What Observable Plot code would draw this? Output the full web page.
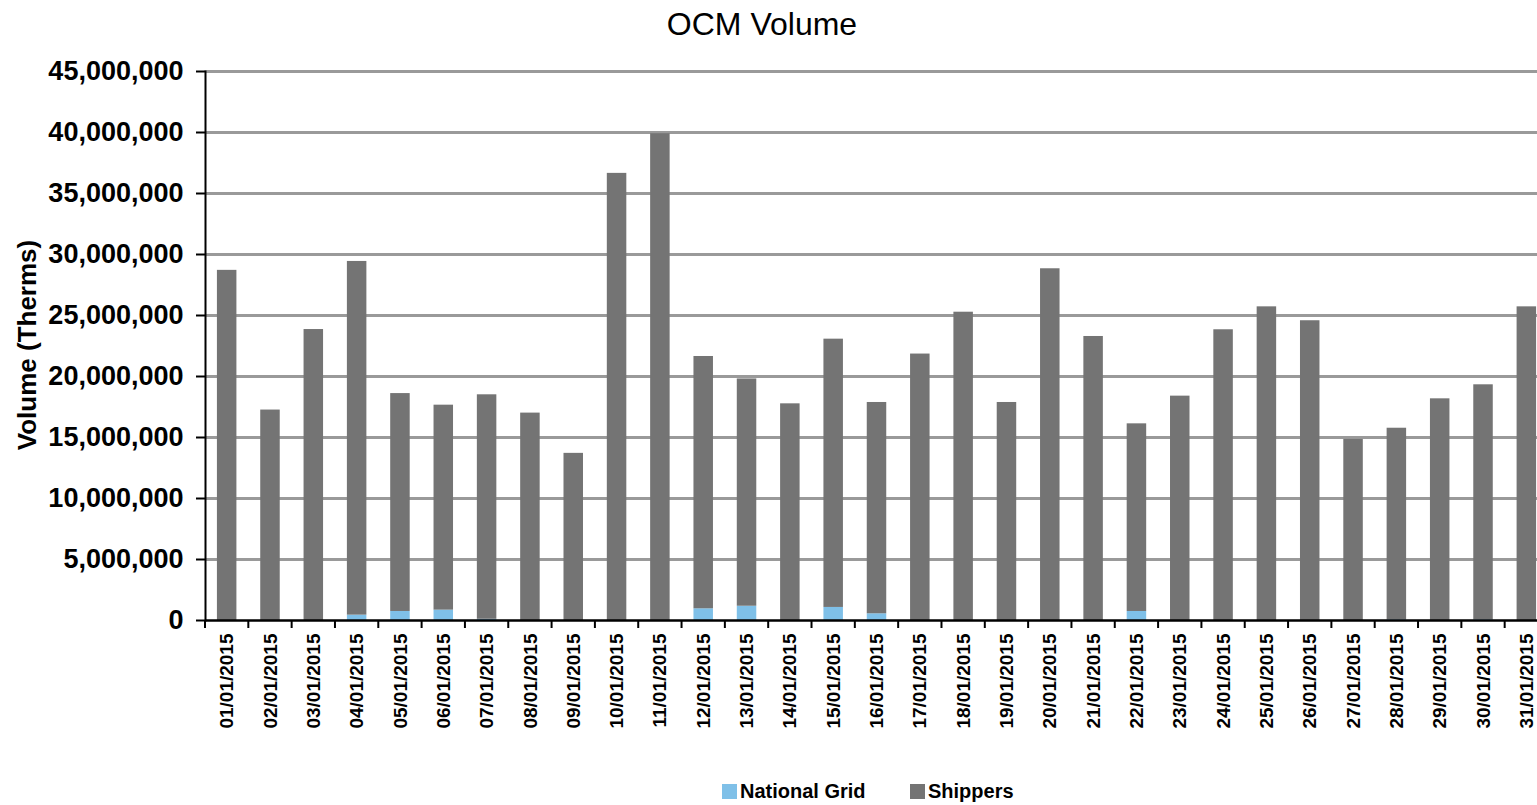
<!DOCTYPE html>
<html>
<head>
<meta charset="utf-8">
<script src="https://cdn.jsdelivr.net/npm/d3@7"></script>
<script src="https://cdn.jsdelivr.net/npm/@observablehq/plot@0.6"></script>
<style>
  html, body { margin: 0; padding: 0; background: #fff; overflow: hidden; }
  body { width: 1537px; height: 805px; font-family: "Liberation Sans", Arial, sans-serif; }
  #title { height: 55px; line-height: 48px; font-size: 32px; text-align: center; padding-right: 13px; color: #000; }
  #chart { position: relative; height: 680px; }
  #ylabel { position: absolute; left: 27px; top: 290px; transform: translate(-50%, -50%) rotate(-90deg); font-size: 26px; font-weight: bold; white-space: nowrap; }
  #legend { position: relative; height: 70px; }
  .item { position: absolute; top: 44px; font-size: 20px; font-weight: bold; line-height: 24px; white-space: nowrap; }
  .sw { display: inline-block; width: 15px; height: 15px; margin-right: 3px; vertical-align: -1px; }
</style>
</head>
<body>
<div id="title">OCM Volume</div>
<div id="chart"><div id="ylabel">Volume (Therms)</div></div>
<div id="legend"></div>
<script>
const dates = ["01/01/2015","02/01/2015","03/01/2015","04/01/2015","05/01/2015","06/01/2015","07/01/2015","08/01/2015","09/01/2015","10/01/2015","11/01/2015","12/01/2015","13/01/2015","14/01/2015","15/01/2015","16/01/2015","17/01/2015","18/01/2015","19/01/2015","20/01/2015","21/01/2015","22/01/2015","23/01/2015","24/01/2015","25/01/2015","26/01/2015","27/01/2015","28/01/2015","29/01/2015","30/01/2015","31/01/2015"];
const nationalGrid = [0,0,0,440000,740000,850000,100000,0,0,0,0,960000,1170000,0,1070000,550000,0,0,0,0,0,740000,0,0,0,0,0,50000,0,50000,0];
const shippers = [28700000,17250000,23850000,28990000,17860000,16800000,18400000,17000000,13700000,36650000,39900000,20680000,18630000,17760000,21990000,17320000,21840000,25270000,17870000,28830000,23280000,15380000,18390000,23830000,25710000,24570000,14840000,15710000,18170000,19270000,25710000];
const seriesNames = ["National Grid", "Shippers"];
const seriesColors = ["#7fc0e8", "#747474"];
const yTicks = [0,5000000,10000000,15000000,20000000,25000000,30000000,35000000,40000000,45000000];

const rows = dates.flatMap((d, i) => [
  {date: d, series: seriesNames[0], value: nationalGrid[i]},
  {date: d, series: seriesNames[1], value: shippers[i]}
]);

const plot = Plot.plot({
  width: 1537,
  height: 680,
  marginTop: 16,
  marginBottom: 115,
  marginLeft: 205,
  marginRight: 0,
  style: {fontFamily: "'Liberation Sans', Arial, sans-serif", color: "#000", background: "#fff", overflow: "hidden"},
  x: {domain: dates, range: [205, 1548], paddingInner: 0.55, paddingOuter: 0.275, round: false},
  y: {domain: [0, 45000000]},
  color: {domain: seriesNames, range: seriesColors},
  marks: [
    Plot.ruleY(yTicks.filter(d => d > 0), {stroke: "#9a9a9a", strokeWidth: 3}),
    Plot.barY(rows, {x: "date", y: "value", fill: "series", order: seriesNames}),
    Plot.axisY({ticks: yTicks, tickFormat: d3.format(","), tickSize: 9, tickPadding: 13, fontSize: 27, fontWeight: "bold", strokeWidth: 2, label: null}),
    Plot.axisX({tickRotate: -90, tickSize: 0, tickPadding: 13, fontSize: 19, fontWeight: "bold", label: null}),
    Plot.ruleY([0], {stroke: "#000", strokeWidth: 2.5}),
    Plot.frame({anchor: "left", stroke: "#000", strokeWidth: 2})
  ]
});

// Category-boundary tick marks (Excel style), positioned from the library's x scale
const xs = plot.scale("x");
const ys = plot.scale("y");
const step = xs.step ?? xs.bandwidth / (1 - 0.55);
const off = (step - xs.bandwidth) / 2;
const bounds = dates.map(d => xs.apply(d) - off);
bounds.push(bounds[bounds.length - 1] + step);
const y0 = ys.apply(0);
d3.select(plot).append("g")
  .selectAll("line").data(bounds).join("line")
  .attr("x1", d => d).attr("x2", d => d)
  .attr("y1", y0).attr("y2", y0 + 8)
  .attr("stroke", "#000").attr("stroke-width", 2);

document.getElementById("chart").appendChild(plot);

const legend = document.getElementById("legend");
const legendX = [722, 910];
seriesNames.forEach((name, i) => {
  const it = document.createElement("div");
  it.className = "item";
  it.style.left = legendX[i] + "px";
  it.innerHTML = `<span class="sw" style="background:${seriesColors[i]}"></span>${name}`;
  legend.appendChild(it);
});
</script>
</body>
</html>
